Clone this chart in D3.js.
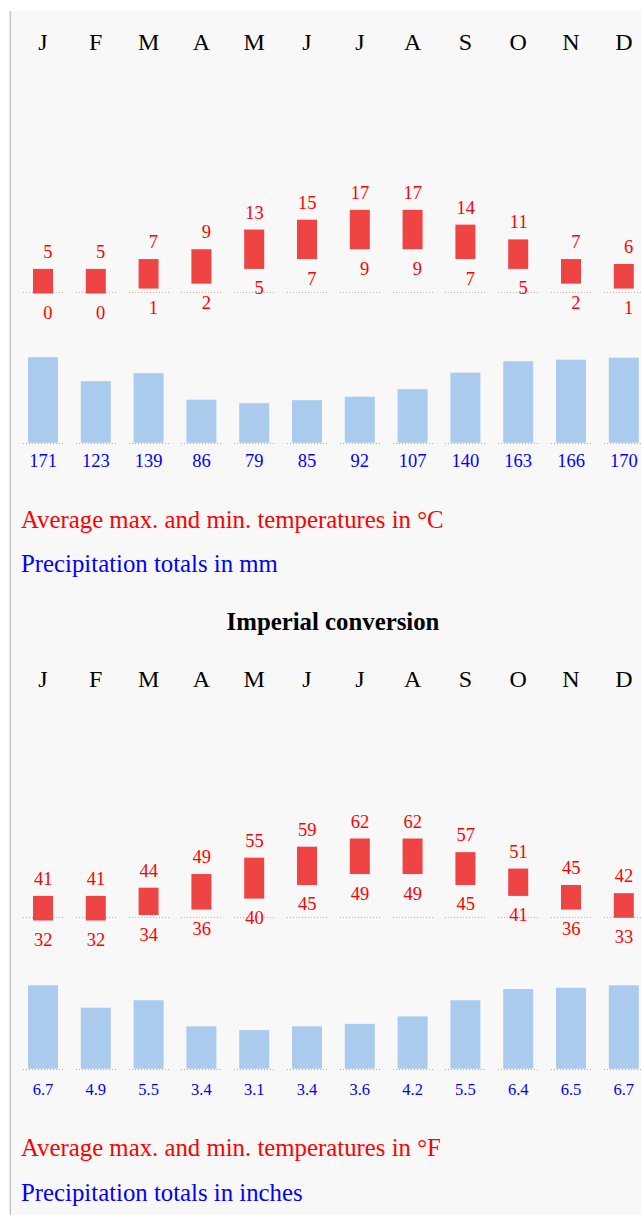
<!DOCTYPE html>
<html>
<head>
<meta charset="utf-8">
<script src="https://cdn.jsdelivr.net/npm/d3@7"></script>
<style>
  html, body { margin: 0; padding: 0; background: #ffffff; }
  svg { display: block; font-family: "Liberation Serif", "Times New Roman", serif; }
</style>
</head>
<body>
<svg id="chart" width="641" height="1215"></svg>
<script>
const months = ["J","F","M","A","M","J","J","A","S","O","N","D"];
const maxC = [5,5,7,9,13,15,17,17,14,11,7,6];
const minC = [0,0,1,2,5,7,9,9,7,5,2,1];
const precipMm = [171,123,139,86,79,85,92,107,140,163,166,170];
const maxF = [41,41,44,49,55,59,62,62,57,51,45,42];
const minF = [32,32,34,36,40,45,49,49,45,41,36,33];
const precipIn = [6.7,4.9,5.5,3.4,3.1,3.4,3.6,4.2,5.5,6.4,6.5,6.7];
const legendTempC = "Average max. and min. temperatures in °C";
const legendPrecipMm = "Precipitation totals in mm";
const legendTempF = "Average max. and min. temperatures in °F";
const legendPrecipIn = "Precipitation totals in inches";
const imperialTitle = "Imperial conversion";

const svg = d3.select("#chart");
const W = 641, H = 1215;

// panel background and left border
svg.append("rect").attr("x", 0).attr("y", 0).attr("width", W).attr("height", H).attr("fill", "#ffffff");
svg.append("rect").attr("x", 10).attr("y", 11).attr("width", W - 10).attr("height", H - 11).attr("fill", "#f8f8f8");
svg.append("rect").attr("x", 9.5).attr("y", 11).attr("width", 1.6).attr("height", H - 11).attr("fill", "#c8c8c8");

const idx = d3.range(12);
const x = d3.scaleBand().domain(idx).range([16.6, 16.6 + 12 * 52.8]);
const cx = i => x(i) + x.bandwidth() / 2;

function drawChart(opt) {
  const g = svg.append("g");
  // month labels
  g.selectAll("text.month").data(months).join("text")
    .attr("class", "month")
    .attr("x", (d, i) => cx(i))
    .attr("y", opt.monthY)
    .attr("text-anchor", "middle")
    .attr("font-size", 24)
    .attr("fill", "#000")
    .text(d => d);

  // temperature dotted baseline
  g.selectAll("line.tz").data(idx).join("line")
    .attr("x1", i => Math.round(cx(i) - 20)).attr("x2", i => Math.round(cx(i) + 20))
    .attr("y1", opt.tZeroLine).attr("y2", opt.tZeroLine)
    .attr("stroke", "#c8b298").attr("stroke-width", 1)
    .attr("stroke-dasharray", "1,2");

  const yT = opt.yT;
  g.selectAll("rect.temp").data(idx).join("rect")
    .attr("x", i => cx(i) - 10)
    .attr("width", 20)
    .attr("y", i => yT(opt.tmax[i]))
    .attr("height", i => yT(opt.tmin[i]) - yT(opt.tmax[i]))
    .attr("fill", "#ee4444");

  g.selectAll("text.tmax").data(idx).join("text")
    .attr("x", i => cx(i) + 9.5)
    .attr("y", i => yT(opt.tmax[i]) - 11)
    .attr("text-anchor", "end")
    .attr("font-size", 18.5)
    .attr("fill", "#ff0000")
    .text(i => opt.tmax[i]);

  g.selectAll("text.tmin").data(idx).join("text")
    .attr("x", i => cx(i) + 9.5)
    .attr("y", i => yT(opt.tmin[i]) + 25.5)
    .attr("text-anchor", "end")
    .attr("font-size", 18.5)
    .attr("fill", "#ff0000")
    .text(i => opt.tmin[i]);

  // precipitation
  const yP = opt.yP;
  g.selectAll("rect.precip").data(idx).join("rect")
    .attr("x", i => cx(i) - 15)
    .attr("width", 30)
    .attr("y", i => yP(opt.precip[i]))
    .attr("height", i => yP(0) - yP(opt.precip[i]))
    .attr("fill", "#abcbee");

  const pz = Math.round(yP(0)) + 0.5;
  g.selectAll("line.pz").data(idx).join("line")
    .attr("x1", i => Math.round(cx(i) - 20)).attr("x2", i => Math.round(cx(i) + 20))
    .attr("y1", pz).attr("y2", pz)
    .attr("stroke", "#9fb0c8").attr("stroke-width", 1)
    .attr("stroke-dasharray", "1,2");

  g.selectAll("text.plab").data(idx).join("text")
    .attr("x", i => cx(i))
    .attr("y", opt.pLabelY)
    .attr("text-anchor", "middle")
    .attr("font-size", opt.pFont)
    .attr("fill", "#0000ff")
    .text(i => opt.precip[i]);

  g.append("text").attr("x", 21).attr("y", opt.leg1Y)
    .attr("font-size", 24.8).attr("fill", "#ff0000").text(opt.leg1);
  g.append("text").attr("x", 21).attr("y", opt.leg2Y)
    .attr("font-size", 24.8).attr("fill", "#0000ff").text(opt.leg2);
}

drawChart({
  monthY: 50,
  tZeroLine: 292.5,
  yT: d3.scaleLinear().domain([0, 17]).range([293.5, 293.5 - 17 * 4.92]),
  tmax: maxC, tmin: minC,
  yP: d3.scaleLinear().domain([0, 171]).range([442.7, 442.7 - 85.5]),
  precip: precipMm,
  pLabelY: 467.3, pFont: 18.5,
  leg1: legendTempC, leg1Y: 528,
  leg2: legendPrecipMm, leg2Y: 572
});

svg.append("text").attr("x", 333).attr("y", 630)
  .attr("text-anchor", "middle").attr("font-size", 24.8).attr("font-weight", "bold")
  .attr("fill", "#000").text(imperialTitle);

drawChart({
  monthY: 687,
  tZeroLine: 917.5,
  yT: d3.scaleLinear().domain([32, 62]).range([920.5, 920.5 - 30 * 2.733]),
  tmax: maxF, tmin: minF,
  yP: d3.scaleLinear().domain([0, 6.7]).range([1068.7, 1068.7 - 83.4]),
  precip: precipIn,
  pLabelY: 1095, pFont: 16.5,
  leg1: legendTempF, leg1Y: 1156,
  leg2: legendPrecipIn, leg2Y: 1200.5
});
</script>
</body>
</html>
